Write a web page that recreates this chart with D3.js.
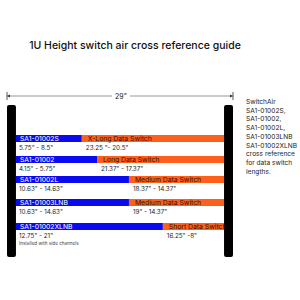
<!DOCTYPE html>
<html><head><meta charset="utf-8">
<script src="https://cdn.jsdelivr.net/npm/d3@7"></script>
<style>body{margin:0;background:#fff}svg{display:block}</style>
</head><body>
<script>
const title = "1U Height switch air cross reference guide";
const rackWidthLabel = "29\"";
const rackWidth = 29;
const kits = ["SA1-01002S","SA1-01002","SA1-01002L","SA1-01003LNB","SA1-01002XLNB"];
const kitRanges = ["5.75\" - 8.5\"","4.15\" - 5.75\"","10.63\" - 14.63\"","10.63\" - 14.63\"","12.75\" - 21\""];
const kitEnd = [9.6, 11.55, 15.65, 15.65, 20.0];
const switchTypes = ["X-Long Data Switch","Long Data Switch","Medium Data Switch","Medium Data Switch","Short Data Switch"];
const switchRanges = ["23.25 \"- 20.5\"","21.37\" - 17.37\"","18.37\" - 14.37\"","19\" - 14.37\"","16.25\" -8\""];
const notes = ["","","","","Installed with side channels"];
const sideText = ["SwitchAir","SA1-01002S,","SA1-01002,","SA1-01002L,","SA1-01003LNB","SA1-01002XLNB","cross reference","for data switch","lengths."];

const W=300,H=300;
const svg=d3.select("body").append("svg").attr("width",W).attr("height",H);
const font="Inter, 'Open Sans', sans-serif";

svg.append("text").attr("x",135).attr("y",49).attr("text-anchor","middle")
  .attr("font-family",font).attr("font-size",10.5).attr("font-weight",500).attr("fill","#111").text(title);

const x=d3.scaleLinear().domain([0,rackWidth]).range([7,233]);
const postW=x(1.15)-x(0);

// dimension line
const dimY=96;
svg.append("line").attr("x1",x(0)).attr("x2",x(rackWidth/2)-8).attr("y1",dimY).attr("y2",dimY).attr("stroke","#555").attr("stroke-width",0.6);
svg.append("line").attr("x1",x(rackWidth/2)+10).attr("x2",x(rackWidth)).attr("y1",dimY).attr("y2",dimY).attr("stroke","#555").attr("stroke-width",0.6);
[0,rackWidth].forEach(v=>svg.append("line").attr("x1",x(v)).attr("x2",x(v)).attr("y1",dimY-4).attr("y2",dimY+4).attr("stroke","#333").attr("stroke-width",0.8));
svg.append("path").attr("d",`M${x(0)},${dimY} l3,-1.5 v3 z`).attr("fill","#333");
svg.append("path").attr("d",`M${x(rackWidth)},${dimY} l-3,-1.5 v3 z`).attr("fill","#333");
svg.append("text").attr("x",x(rackWidth/2)+1).attr("y",dimY+2.5).attr("text-anchor","middle")
  .attr("font-family",font).attr("font-size",7).attr("fill","#222").text(rackWidthLabel);

// posts
[x(0), x(rackWidth)-postW].forEach(px=>{
  svg.append("rect").attr("x",px).attr("y",105).attr("width",postW).attr("height",152).attr("rx",2).attr("fill","#000");
});

const y=d3.scaleBand().domain(kits).range([135,255]).paddingInner(0);
const step=[0,21,41,64,88];
const barH=7;
const rows=svg.selectAll("g.row").data(kits).join("g").attr("class","row")
  .attr("transform",(d,i)=>`translate(0,${135+step[i]})`);
const left=x(0)+postW, right=x(rackWidth)-postW;
rows.append("rect").attr("x",left).attr("width",(d,i)=>x(kitEnd[i])-left).attr("height",barH).attr("fill","#0a0af0");
rows.append("rect").attr("x",(d,i)=>x(kitEnd[i])).attr("width",(d,i)=>right-x(kitEnd[i])).attr("height",barH).attr("fill","#ff5f1a");
rows.append("text").attr("x",left+4).attr("y",5.8).attr("font-family",font).attr("font-size",6.8).attr("fill","#fff").text(d=>d);
rows.append("text").attr("x",(d,i)=>x(kitEnd[i])+6).attr("y",5.8).attr("font-family",font).attr("font-size",6.8).attr("fill","#3a1000").text((d,i)=>switchTypes[i]);
rows.append("text").attr("x",left+3).attr("y",15).attr("font-family",font).attr("font-size",6.3).attr("fill","#222").text((d,i)=>kitRanges[i]);
rows.append("text").attr("x",(d,i)=>x(kitEnd[i])+4).attr("y",15).attr("font-family",font).attr("font-size",6.3).attr("fill","#222").text((d,i)=>switchRanges[i]);
rows.append("text").attr("x",left+3).attr("y",22).attr("font-family",font).attr("font-size",4.6).attr("fill","#444").text((d,i)=>notes[i]);

svg.append("text").attr("font-family",font).attr("font-size",6.6).attr("fill","#222")
  .selectAll("tspan").data(sideText).join("tspan").attr("x",246).attr("y",(d,i)=>104+i*8.7).text(d=>d);
</script>
</body></html>
